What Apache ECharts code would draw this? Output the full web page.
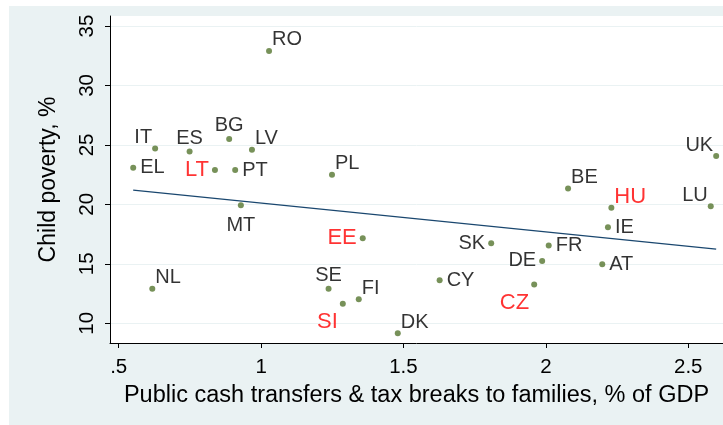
<!DOCTYPE html>
<html>
<head>
<meta charset="utf-8">
<script src="https://cdn.jsdelivr.net/npm/echarts@6/dist/echarts.min.js"></script>
<style>
html,body{margin:0;padding:0;background:#fff;}
#chart{width:723px;height:425px;}
</style>
</head>
<body>
<div id="chart"></div>
<script>
// ---- data ----
const countries = ['RO','IT','ES','BG','LV','EL','LT','PT','PL','MT','UK','BE','HU','LU','NL','SE','SI','FI','EE','SK','FR','IE','DE','AT','CY','CZ','DK'];
const transfers = [1.028,0.628,0.749,0.888,0.968,0.551,0.838,0.909,1.249,0.929,2.598,2.078,2.230,2.579,0.618,1.237,1.287,1.343,1.357,1.808,2.010,2.218,1.987,2.198,1.627,1.959,1.480];
const childPoverty = [32.9,24.7,24.45,25.5,24.6,23.07,22.88,22.88,22.48,19.93,24.06,21.33,19.71,19.85,12.91,12.91,11.65,12.02,17.15,16.73,16.53,18.08,15.24,14.97,13.62,13.25,9.16];
const highlighted = ['LT','HU','EE','CZ','SI'];
// label clock positions (Stata-style mlabvpos)
const labelClock = [2,11,12,12,2,3,9,3,2,6,11,2,2,11,2,12,7,2,9,9,3,3,9,3,3,7,2];
// fitted line endpoints
const fitX = [0.551, 2.598];
const fitY = [21.2, 16.23];
const xTicks = [0.5,1,1.5,2,2.5];
const yTicks = [10,15,20,25,30,35];

const FONT = '"Liberation Sans", Arial, sans-serif';

function labelFor(clock, red) {
  const base = {show:true, formatter:'{b}', fontFamily:FONT, fontSize: red?22:20, color: red?'#ff0000':'#000'};
  switch(clock){
    case 3: return Object.assign(base,{position:'right',distance:4});
    case 9: return Object.assign(base,{position:'left',distance:3});
    case 12: return Object.assign(base,{position:'top',distance:0});
    case 6: return Object.assign(base,{position:'bottom',distance:7});
    case 2: return Object.assign(base,{position:'right',distance:0});
    case 11: return Object.assign(base,{position:'left',distance:0});
    case 7: return Object.assign(base,{position:'left',distance:2});
  }
  return base;
}
const clockDy = {2:-11, 11:-11, 7:18};

const pts = countries.map((c,i)=>({
  name:c,
  value:[transfers[i], childPoverty[i]],
  label: labelFor(labelClock[i], highlighted.indexOf(c)>=0)
}));

const chart = echarts.init(document.getElementById('chart'), null, {renderer:'canvas'});
chart.setOption({
  backgroundColor:'#eaf2f3',
  animation:false,
  graphic:[
    {type:'rect', shape:{x:0,y:0,width:723,height:6}, style:{fill:'#fff'}, silent:true},
    {type:'rect', shape:{x:0,y:0,width:9,height:425}, style:{fill:'#fff'}, silent:true}
  ],
  grid:{left:110, top:16, right:0, bottom:82, show:true, backgroundColor:'#fff', borderWidth:0, containLabel:false},
  xAxis:{
    type:'value', min:0.4695, max:2.622,
    name:'Public cash transfers & tax breaks to families, % of GDP',
    nameLocation:'middle', nameGap:41,
    nameTextStyle:{fontFamily:FONT, fontSize:23.5, color:'#000'},
    axisLine:{show:true, onZero:false, lineStyle:{color:'#000', width:1}},
    axisTick:{show:true, length:5, customValues:xTicks, lineStyle:{color:'#000'}},
    axisLabel:{customValues:xTicks, fontFamily:FONT, fontSize:20.5, color:'#000', margin:14,
      formatter:v=>{ let s=String(+v.toFixed(2)); return s.startsWith('0.')?s.slice(1):s; }},
    splitLine:{show:false}
  },
  yAxis:{
    type:'value', min:8.34, max:35.84,
    name:'Child poverty, %',
    nameLocation:'middle', nameGap:50, nameRotate:90,
    nameTextStyle:{fontFamily:FONT, fontSize:23, color:'#000'},
    axisLine:{show:true, onZero:false, lineStyle:{color:'#000', width:1}},
    axisTick:{show:true, length:5, customValues:yTicks, lineStyle:{color:'#000'}},
    axisLabel:{customValues:yTicks, rotate:90, fontFamily:FONT, fontSize:20.5, color:'#000', margin:12},
    splitLine:{show:true, lineStyle:{color:'#eaf2f3', width:1}}
  },
  series:[
    {
      type:'line', data: fitX.map((x,i)=>[x, fitY[i]]),
      showSymbol:false, symbol:'none', silent:true,
      lineStyle:{color:'#1a476f', width:1.3}, z:2
    },
    {
      type:'scatter', data: pts, symbol:'circle', symbolSize:6,
      itemStyle:{color:'#55752f'}, z:3,
      labelLayout: function(p){ return {dy: clockDy[labelClock[p.dataIndex]] || 0, hideOverlap:false}; }
    }
  ]
});
</script>
</body>
</html>
